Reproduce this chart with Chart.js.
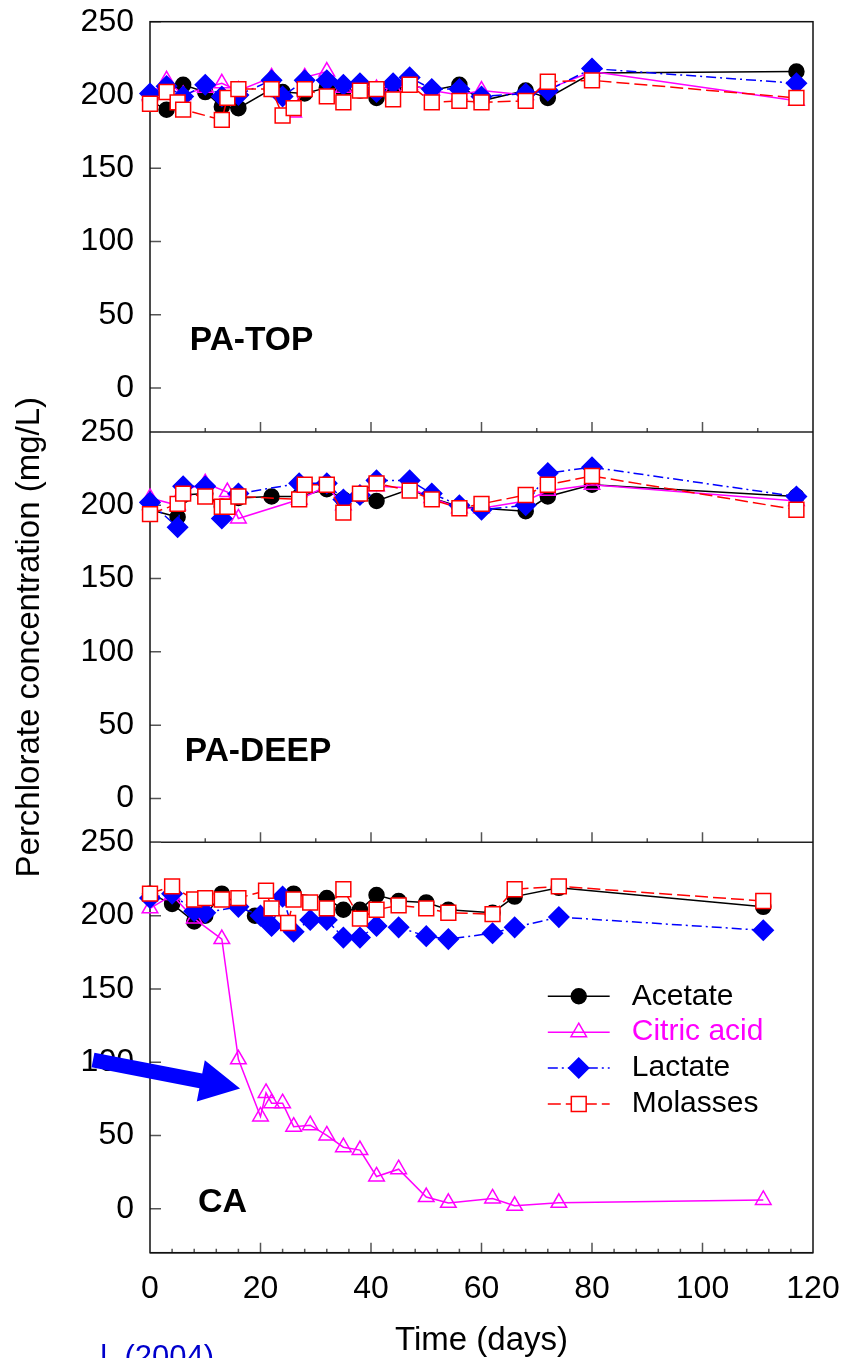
<!DOCTYPE html>
<html>
<head>
<meta charset="utf-8">
<title>Perchlorate concentration over time</title>
<script src="https://cdn.jsdelivr.net/npm/chart.js@4.4.1/dist/chart.umd.min.js"></script>
<style>
  html, body { margin: 0; padding: 0; background: #fff; }
  #wrap { position: relative; width: 859px; height: 1358px; }
</style>
</head>
<body>
<div id="wrap"><canvas id="chart" width="859" height="1358"></canvas></div>
<script>
// --- Data (mg/L vs days) ---
const xTicks = [0, 20, 40, 60, 80, 100, 120];
const yTicks = [0, 50, 100, 150, 200, 250];
const seriesNames = ['Acetate', 'Citric acid', 'Lactate', 'Molasses'];
const panelNames = ['PA-TOP', 'PA-DEEP', 'CA'];

// PA-TOP
const topAcetateDays = [0, 3, 6, 10, 13, 16, 22, 24, 28, 32, 35, 38, 41, 44, 47, 51, 56, 60, 68, 72, 80, 117];
const topAcetate     = [196, 190, 207, 202, 192, 191, 204, 202, 201, 205, 203, 203, 198, 204, 207, 203, 207, 196, 203, 198, 215, 216];
const topCitricDays  = [0, 3, 6, 10, 13, 16, 22, 26, 28, 32, 35, 38, 41, 44, 47, 51, 56, 60, 68, 72, 80, 117];
const topCitric      = [200, 210, 200, 205, 208, 203, 212, 188, 212, 216, 205, 206, 204, 205, 207, 203, 200, 203, 200, 204, 216, 196];
const topLactateDays = [0, 3, 6, 10, 13, 16, 22, 24, 28, 32, 35, 38, 41, 44, 47, 51, 56, 60, 68, 72, 80, 117];
const topLactate     = [201, 206, 199, 207, 199, 200, 210, 199, 210, 210, 207, 208, 202, 208, 212, 204, 204, 199, 201, 203, 218, 208];
const topMolassesDays = [0, 3, 5, 6, 13, 14, 16, 22, 24, 26, 28, 32, 35, 38, 41, 44, 47, 51, 56, 60, 68, 72, 80, 117];
const topMolasses     = [194, 202, 195, 190, 183, 198, 204, 204, 186, 191, 204, 199, 195, 203, 204, 197, 207, 195, 196, 195, 196, 209, 210, 198];

// PA-DEEP
const deepAcetateDays = [0, 5, 6, 10, 13, 16, 22, 27, 32, 35, 38, 41, 47, 51, 56, 60, 68, 72, 80, 117];
const deepAcetate     = [197, 192, 207, 208, 199, 205, 206, 206, 211, 204, 207, 203, 211, 205, 199, 198, 196, 206, 214, 206];
const deepCitricDays  = [0, 5, 6, 10, 14, 16, 27, 32, 35, 41, 47, 51, 56, 60, 68, 72, 80, 117];
const deepCitric      = [205, 200, 210, 215, 209, 191, 204, 213, 200, 213, 212, 205, 198, 198, 203, 210, 214, 203];
const deepLactateDays = [0, 5, 6, 10, 13, 16, 27, 32, 35, 38, 41, 47, 51, 56, 60, 68, 72, 80, 117];
const deepLactate     = [202, 185, 213, 213, 191, 208, 215, 215, 204, 207, 217, 217, 208, 200, 197, 200, 222, 226, 206];
const deepMolassesDays = [0, 5, 6, 10, 13, 14, 16, 27, 28, 32, 35, 38, 41, 47, 51, 56, 60, 68, 72, 80, 117];
const deepMolasses     = [194, 201, 208, 206, 199, 199, 206, 204, 214, 214, 195, 208, 215, 210, 204, 198, 201, 207, 214, 220, 197];

// CA
const caAcetateDays = [0, 4, 8, 10, 13, 19, 26, 32, 35, 38, 41, 45, 50, 54, 62, 66, 74, 111];
const caAcetate     = [215, 208, 196, 200, 215, 200, 215, 212, 204, 204, 214, 210, 209, 204, 202, 213, 219, 206];
const caCitricDays  = [0, 4, 8, 13, 16, 20, 21, 22, 24, 26, 29, 32, 35, 38, 41, 45, 50, 54, 62, 66, 74, 111];
const caCitric      = [205, 214, 198, 184, 102, 63, 79, 72, 72, 56, 57, 50, 42, 40, 22, 27, 8, 4, 7, 2, 4, 6];
const caLactateDays = [0, 4, 8, 10, 16, 20, 22, 24, 26, 29, 32, 35, 38, 41, 45, 50, 54, 62, 66, 74, 111];
const caLactate     = [212, 215, 203, 202, 206, 200, 193, 213, 189, 197, 197, 185, 185, 193, 192, 186, 184, 188, 192, 199, 190];
const caMolassesDays = [0, 4, 8, 10, 13, 16, 21, 22, 25, 26, 29, 32, 35, 38, 41, 45, 50, 54, 62, 66, 74, 111];
const caMolasses     = [215, 220, 211, 212, 211, 212, 217, 205, 195, 211, 209, 205, 218, 198, 204, 207, 205, 202, 201, 218, 220, 210];

// --- Look ---
const FONT = '"Liberation Sans", Arial, Helvetica, sans-serif';
const X_MIN = 0, X_MAX = 120, Y_MIN = -30, Y_MAX = 250;

const styles = {
  'Acetate':     { color: '#000000', pointStyle: 'circle', radius: 7.5, fill: '#000000', dash: [],            order: 4, textColor: '#000' },
  'Citric acid': { color: '#ff00ff', pointStyle: 'triangle', radius: 9, fill: 'rgba(255,255,255,0)', dash: [], order: 3, textColor: '#ff00ff' },
  'Lactate':     { color: '#0000ff', pointStyle: 'rectRot', radius: 10, fill: '#0000ff', dash: [10, 4, 2, 4], order: 2, textColor: '#000' },
  'Molasses':    { color: '#ff0000', pointStyle: 'rect', radius: 10.5, fill: '#ffffff', dash: [13, 5],       order: 1, textColor: '#000' }
};

function makeSet(name, axis, days, values) {
  const s = styles[name];
  return {
    label: name,
    yAxisID: axis,
    data: days.map((d, i) => ({ x: d, y: values[i] })),
    borderColor: s.color,
    borderWidth: 1.5,
    borderDash: s.dash,
    pointStyle: s.pointStyle,
    pointRadius: s.radius,
    pointHoverRadius: s.radius,
    pointBackgroundColor: s.fill,
    pointBorderColor: s.color,
    pointBorderWidth: 1.5,
    tension: 0,
    fill: false,
    clip: false,
    order: s.order
  };
}

const datasets = [
  makeSet('Acetate', 'yTop', topAcetateDays, topAcetate),
  makeSet('Citric acid', 'yTop', topCitricDays, topCitric),
  makeSet('Lactate', 'yTop', topLactateDays, topLactate),
  makeSet('Molasses', 'yTop', topMolassesDays, topMolasses),
  makeSet('Acetate', 'yDeep', deepAcetateDays, deepAcetate),
  makeSet('Citric acid', 'yDeep', deepCitricDays, deepCitric),
  makeSet('Lactate', 'yDeep', deepLactateDays, deepLactate),
  makeSet('Molasses', 'yDeep', deepMolassesDays, deepMolasses),
  makeSet('Acetate', 'yCa', caAcetateDays, caAcetate),
  makeSet('Citric acid', 'yCa', caCitricDays, caCitric),
  makeSet('Lactate', 'yCa', caLactateDays, caLactate),
  makeSet('Molasses', 'yCa', caMolassesDays, caMolasses)
];

function panelAxis(withTitle) {
  return {
    type: 'linear',
    position: 'left',
    stack: 'panels',
    stackWeight: 1,
    min: Y_MIN,
    max: Y_MAX,
    afterBuildTicks: s => { s.ticks = yTicks.map(v => ({ value: v })); },
    afterFit: s => { s.width = 150; s.paddingTop = 0; s.paddingBottom = 0; },
    grid: { display: false, drawTicks: false },
    border: { display: false },
    ticks: { color: '#000', font: { family: FONT, size: 32 }, padding: 16 },
    title: {
      display: withTitle,
      text: 'Perchlorate concentration (mg/L)',
      color: '#000',
      font: { family: FONT, size: 33 },
      padding: { top: 10, bottom: 0 }
    }
  };
}

// panel frames, inward ticks, labels, legend and the arrow
const decorPlugin = {
  id: 'decor',
  beforeDatasetsDraw(chart) {
    const { ctx, chartArea: a, scales } = chart;
    const x = scales.x;
    ctx.save();
    ['yTop', 'yDeep', 'yCa'].forEach(id => {
      const ys = scales[id];
      ctx.strokeStyle = '#555';
      ctx.lineWidth = 1.5;
      ctx.beginPath();
      yTicks.forEach(v => {
        const py = ys.getPixelForValue(v);
        ctx.moveTo(a.left, py);
        ctx.lineTo(a.left + 11, py);
      });
      // x ticks along the panel bottom, pointing up
      const minorStep = id === 'yCa' ? 4 : 10;
      for (let d = minorStep; d < X_MAX; d += minorStep) {
        if (d % 20 === 0) continue;
        const px = x.getPixelForValue(d);
        ctx.moveTo(px, ys.bottom);
        ctx.lineTo(px, ys.bottom - 4);
      }
      xTicks.slice(1, -1).forEach(d => {
        const px = x.getPixelForValue(d);
        ctx.moveTo(px, ys.bottom);
        ctx.lineTo(px, ys.bottom - 10);
      });
      ctx.stroke();
      ctx.strokeStyle = '#222';
      ctx.beginPath();
      ctx.moveTo(a.left, ys.bottom);
      ctx.lineTo(a.right, ys.bottom);
      ctx.stroke();
    });
    ctx.strokeStyle = '#111';
    ctx.lineWidth = 1.5;
    ctx.strokeRect(a.left, a.top, a.right - a.left, a.bottom - a.top);
    ctx.restore();
  },
  afterDraw(chart) {
    const { ctx, scales } = chart;
    const x = scales.x;
    ctx.save();

    // panel names
    ctx.fillStyle = '#000';
    ctx.textBaseline = 'middle';
    ctx.textAlign = 'left';
    ctx.font = 'bold 33.5px ' + FONT;
    ctx.fillText(panelNames[0], x.getPixelForValue(7.2), scales.yTop.getPixelForValue(32));
    ctx.fillText(panelNames[1], x.getPixelForValue(6.3), scales.yDeep.getPixelForValue(32));
    ctx.font = 'bold 34px ' + FONT;
    ctx.fillText(panelNames[2], x.getPixelForValue(8.7), scales.yCa.getPixelForValue(4));

    // legend inside the CA panel
    const ly = scales.yCa;
    seriesNames.forEach((name, i) => {
      const s = styles[name];
      const cy = ly.getPixelForValue(145 - i * 24.5);
      const x0 = x.getPixelForValue(72), x1 = x.getPixelForValue(83.2);
      ctx.strokeStyle = s.color;
      ctx.lineWidth = 1.5;
      ctx.setLineDash(s.dash);
      ctx.beginPath();
      ctx.moveTo(x0, cy);
      ctx.lineTo(x1, cy);
      ctx.stroke();
      ctx.setLineDash([]);
      ctx.fillStyle = s.fill;
      ctx.strokeStyle = s.color;
      Chart.helpers.drawPoint(ctx, { pointStyle: s.pointStyle, radius: s.radius, rotation: 0, borderWidth: 1.5 }, (x0 + x1) / 2, cy);
      ctx.fillStyle = s.textColor;
      ctx.font = '30px ' + FONT;
      ctx.textAlign = 'left';
      ctx.textBaseline = 'middle';
      ctx.fillText(name, x.getPixelForValue(87.2), cy);
    });

    // arrow pointing at the citric acid drop
    const tipX = x.getPixelForValue(16.3), tipY = ly.getPixelForValue(82);
    const startX = 93, startY = 1060;
    const dx = tipX - startX, dy = tipY - startY;
    const len = Math.hypot(dx, dy);
    const ux = dx / len, uy = dy / len, nx = -uy, ny = ux;
    const headLen = 40, headW = 21, shaftW = 7.5;
    const bx = tipX - ux * headLen, by = tipY - uy * headLen;
    ctx.fillStyle = '#0000ff';
    ctx.beginPath();
    ctx.moveTo(startX + nx * shaftW, startY + ny * shaftW);
    ctx.lineTo(bx + nx * shaftW, by + ny * shaftW);
    ctx.lineTo(bx + nx * headW, by + ny * headW);
    ctx.lineTo(tipX, tipY);
    ctx.lineTo(bx - nx * headW, by - ny * headW);
    ctx.lineTo(bx - nx * shaftW, by - ny * shaftW);
    ctx.lineTo(startX - nx * shaftW, startY - ny * shaftW);
    ctx.closePath();
    ctx.fill();

    // cut-off source note
    ctx.fillStyle = '#0000cc';
    ctx.font = '31px ' + FONT;
    ctx.textAlign = 'right';
    ctx.textBaseline = 'alphabetic';
    ctx.fillText('l. (2004)', 214, 1367);
    ctx.restore();
  }
};

new Chart(document.getElementById('chart'), {
  type: 'line',
  data: { datasets },
  options: {
    responsive: false,
    animation: false,
    events: [],
    layout: { padding: { top: 21.7, right: 46, left: 0, bottom: 0 } },
    plugins: { legend: { display: false }, tooltip: { enabled: false } },
    scales: {
      x: {
        type: 'linear',
        position: 'bottom',
        min: X_MIN,
        max: X_MAX,
        afterBuildTicks: s => { s.ticks = xTicks.map(v => ({ value: v })); },
        afterFit: s => { s.height = 105.3; s.paddingLeft = 0; s.paddingRight = 0; },
        grid: { display: false, drawTicks: false },
        border: { display: false },
        ticks: { color: '#000', font: { family: FONT, size: 32 }, padding: 17, maxRotation: 0 },
        title: {
          display: true,
          text: 'Time (days)',
          color: '#000',
          font: { family: FONT, size: 33 },
          padding: { top: 0, bottom: -3 }
        }
      },
      // stacked left axes: the last one listed ends up on top
      yCa: panelAxis(false),
      yDeep: panelAxis(true),
      yTop: panelAxis(false)
    }
  },
  plugins: [decorPlugin]
});
</script>
</body>
</html>
